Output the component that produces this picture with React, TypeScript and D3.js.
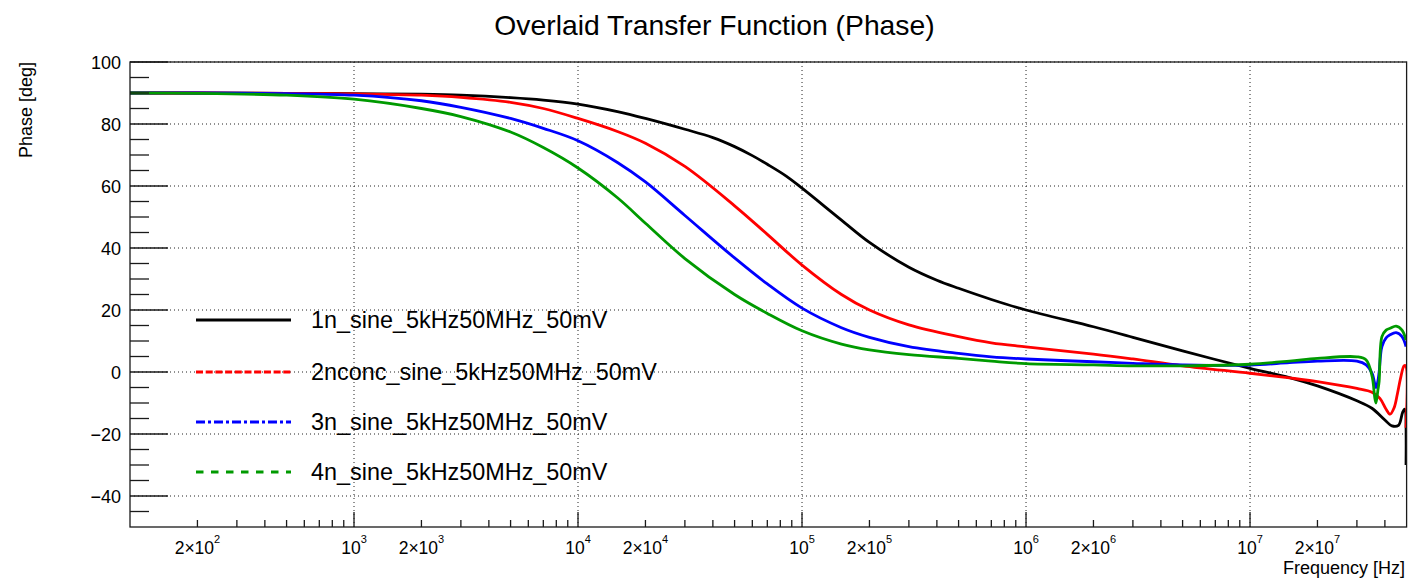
import React from 'react';
import * as d3 from 'd3';

const WIDTH = 1408;
const HEIGHT = 579;

// Axis ranges
const freqDomain: [number, number] = [100, 5e7];
const phaseDomain: [number, number] = [-50, 100];

// Tick definitions
const phaseMajorTicks = [-40, -20, 0, 20, 40, 60, 80, 100];
const decadeExponents = [3, 4, 5, 6, 7];
const twoTimesExponents = [2, 3, 4, 5, 6, 7];

// Phase (deg) vs frequency (Hz) for each measurement
const phase1n: [number, number][] = [
  [100, 90], [200, 90], [500, 89.9], [1e3, 89.8], [2e3, 89.6], [3e3, 89.3], [5e3, 88.5],
  [7e3, 87.7], [1e4, 86.4], [1.5e4, 84], [2e4, 81.8], [3e4, 78.3], [4e4, 75.6], [5e4, 72.7],
  [6e4, 69.8], [7e4, 67], [8.5e4, 63.2], [1e5, 59.3], [1.5e5, 49], [2e5, 41.8], [3e5, 33.8],
  [4e5, 29.6], [5e5, 27], [7e5, 23.4], [1e6, 20], [2e6, 14.6], [3e6, 11.2], [5e6, 6.8],
  [1e7, 1.2], [1.5e7, -1.8], [2e7, -4.5], [3e7, -9.3], [3.5e7, -11.7], [4e7, -15.5],
  [4.3e7, -17.4], [4.6e7, -17.2], [4.8e7, -13], [4.9e7, -12], [4.97e7, -30],
];

const phase2nconc: [number, number][] = [
  [100, 90], [200, 90], [500, 89.9], [1e3, 89.7], [2e3, 89.3], [3e3, 88.6], [5e3, 87],
  [7e3, 85], [1e4, 81.8], [1.5e4, 77.6], [2e4, 73.8], [3e4, 66.3], [5e4, 53.6], [7e4, 44.4],
  [1e5, 34.5], [1.5e5, 25], [2e5, 20], [3e5, 15.2], [5e5, 11.4], [7e5, 9.4], [1e6, 8.1],
  [2e6, 5.8], [3e6, 4.2], [5e6, 2], [1e7, -0.4], [1.5e7, -1.9], [2e7, -3.1], [3e7, -5.3],
  [3.5e7, -6.5], [3.8e7, -8.5], [4.05e7, -12], [4.22e7, -13.6], [4.4e7, -11.5], [4.55e7, -7],
  [4.7e7, -2], [4.87e7, 2], [4.95e7, 2], [4.97e7, -18],
];

const phase3n: [number, number][] = [
  [100, 90], [200, 90], [500, 89.8], [1e3, 89.3], [2e3, 87.5], [3e3, 85.4], [5e3, 81.8],
  [7e3, 78.6], [1e4, 74.6], [1.5e4, 67.6], [2e4, 61.3], [3e4, 50.5], [5e4, 36.8], [7e4, 28.4],
  [1e5, 20.6], [1.5e5, 14.3], [2e5, 11.2], [3e5, 8.2], [5e5, 6], [7e5, 4.9], [1e6, 4.2],
  [2e6, 3.3], [3e6, 2.8], [5e6, 2.3], [1e7, 2.2], [1.5e7, 3], [2e7, 3.5], [3e7, 3.5],
  [3.3e7, 2.3], [3.51e7, -0.5], [3.65e7, -5], [3.72e7, -3], [3.77e7, 0], [3.88e7, 8.2],
  [4.05e7, 11], [4.22e7, 12], [4.49e7, 12.7], [4.77e7, 11.4], [4.97e7, 8.2],
];

const phase4n: [number, number][] = [
  [100, 90], [200, 89.9], [500, 89.3], [1e3, 88], [2e3, 85], [3e3, 82.4], [5e3, 77.4],
  [7e3, 72.4], [1e4, 65.8], [1.5e4, 56.2], [2e4, 48], [3e4, 36.6], [5e4, 25], [7e4, 18.9],
  [1e5, 13.3], [1.5e5, 9], [2e5, 7.1], [3e5, 5.6], [5e5, 4.4], [7e5, 3.5], [1e6, 2.7],
  [2e6, 2.3], [3e6, 2], [5e6, 2], [1e7, 2.5], [1.5e7, 3.5], [2e7, 4.4], [3e7, 4.9],
  [3.3e7, 3.9], [3.51e7, -1.5], [3.6e7, -8], [3.65e7, -10], [3.72e7, -6], [3.77e7, -3],
  [3.88e7, 11.4], [4.05e7, 13.5], [4.22e7, 14.1], [4.49e7, 14.8], [4.77e7, 13.5], [4.97e7, 10.3],
];

const seriesNames = [
  '1n_sine_5kHz50MHz_50mV',
  '2nconc_sine_5kHz50MHz_50mV',
  '3n_sine_5kHz50MHz_50mV',
  '4n_sine_5kHz50MHz_50mV',
];
const seriesData = [phase1n, phase2nconc, phase3n, phase4n];
const seriesColors = ['#000000', '#ff0000', '#0000ff', '#009a00'];
const legendDash = ['none', '7,2.7', '9,3,3,3', '7.5,7.5'];

const FONT = "'Liberation Sans', Arial, Helvetica, sans-serif";

export default function App() {
  const left = 130;
  const right = 1406.6;
  const top = 62;
  const bottom = 527;

  const x = d3.scaleLog().domain(freqDomain).range([left, right]);
  const y = d3.scaleLinear().domain(phaseDomain).range([bottom, top]);

  const line = d3
    .line<[number, number]>()
    .x((d) => x(d[0]))
    .y((d) => y(d[1]))
    .curve(d3.curveCatmullRom.alpha(0.5));

  const minorPhase = d3.range(-45, 100, 5).filter((v) => v % 20 !== 0);

  const minorFreq: number[] = [];
  for (let e = 2; e <= 7; e++) {
    for (let m = 2; m <= 9; m++) {
      const f = m * Math.pow(10, e);
      if (f < freqDomain[1] * 0.999) minorFreq.push(f);
    }
  }

  const axisColor = '#1a1a1a';
  const legendRows = [320, 372, 422, 472];

  return (
    <svg
      width={WIDTH}
      height={HEIGHT}
      style={{ position: 'absolute', left: 0, top: 0, background: '#fff' }}
      fontFamily={FONT}
    >
      <defs>
        <clipPath id="plot-clip">
          <rect x={left} y={top} width={right - left} height={bottom - top} />
        </clipPath>
      </defs>

      {/* title */}
      <text x={714.5} y={35} textAnchor="middle" fontSize={28.3} fill="#000">
        Overlaid Transfer Function (Phase)
      </text>

      {/* grid */}
      <g stroke="#222" strokeWidth={1} strokeDasharray="1,3">
        {phaseMajorTicks.map((v) => (
          <line key={`gy${v}`} x1={left} x2={right} y1={y(v)} y2={y(v)} />
        ))}
        {decadeExponents.map((e) => (
          <line key={`gx${e}`} x1={x(Math.pow(10, e))} x2={x(Math.pow(10, e))} y1={top} y2={bottom} />
        ))}
      </g>

      {/* curves */}
      <g clipPath="url(#plot-clip)" fill="none" strokeWidth={2.8} strokeLinejoin="round">
        {seriesData.map((d, i) => (
          <path key={seriesNames[i]} d={line(d) ?? ''} stroke={seriesColors[i]} />
        ))}
      </g>

      {/* frame */}
      <rect x={left} y={top} width={right - left} height={bottom - top} fill="none" stroke={axisColor} strokeWidth={1.3} />

      {/* ticks */}
      <g stroke={axisColor} strokeWidth={1.3}>
        {phaseMajorTicks.map((v) => (
          <line key={`ty${v}`} x1={left} x2={left + 38} y1={y(v)} y2={y(v)} />
        ))}
        {minorPhase.map((v) => (
          <line key={`tmy${v}`} x1={left} x2={left + 19} y1={y(v)} y2={y(v)} />
        ))}
        {decadeExponents.map((e) => (
          <line key={`tx${e}`} x1={x(Math.pow(10, e))} x2={x(Math.pow(10, e))} y1={bottom} y2={bottom - 15} />
        ))}
        {minorFreq.map((f) => (
          <line key={`tmx${f}`} x1={x(f)} x2={x(f)} y1={bottom} y2={bottom - 7} />
        ))}
      </g>

      {/* y tick labels */}
      <g fontSize={18} fill="#000" textAnchor="end">
        {phaseMajorTicks.map((v) => (
          <text key={`ly${v}`} x={121} y={y(v) + 6.5}>
            {v < 0 ? `\u2212${Math.abs(v)}` : `${v}`}
          </text>
        ))}
      </g>

      {/* x tick labels */}
      <g fontSize={17.5} fill="#000" textAnchor="middle">
        {decadeExponents.map((e) => (
          <text key={`lx${e}`} x={x(Math.pow(10, e))} y={554}>
            10
            <tspan fontSize={11} dy={-11}>{e}</tspan>
          </text>
        ))}
        {twoTimesExponents.map((e) => (
          <text key={`l2x${e}`} x={x(2 * Math.pow(10, e))} y={554}>
            2×10
            <tspan fontSize={11} dy={-11}>{e}</tspan>
          </text>
        ))}
      </g>

      {/* axis titles */}
      <text x={1405} y={574} textAnchor="end" fontSize={18} fill="#000">
        Frequency [Hz]
      </text>
      <text
        transform="translate(32,62) rotate(-90)"
        textAnchor="end"
        fontSize={18}
        fill="#000"
      >
        Phase [deg]
      </text>

      {/* legend */}
      <g>
        {seriesNames.map((name, i) => (
          <g key={`leg${i}`}>
            <line
              x1={196}
              x2={291}
              y1={legendRows[i]}
              y2={legendRows[i]}
              stroke={seriesColors[i]}
              strokeWidth={3}
              strokeDasharray={legendDash[i]}
            />
            <text x={311} y={legendRows[i] + 8.3} fontSize={23.4} fill="#000">
              {name}
            </text>
          </g>
        ))}
      </g>
    </svg>
  );
}
